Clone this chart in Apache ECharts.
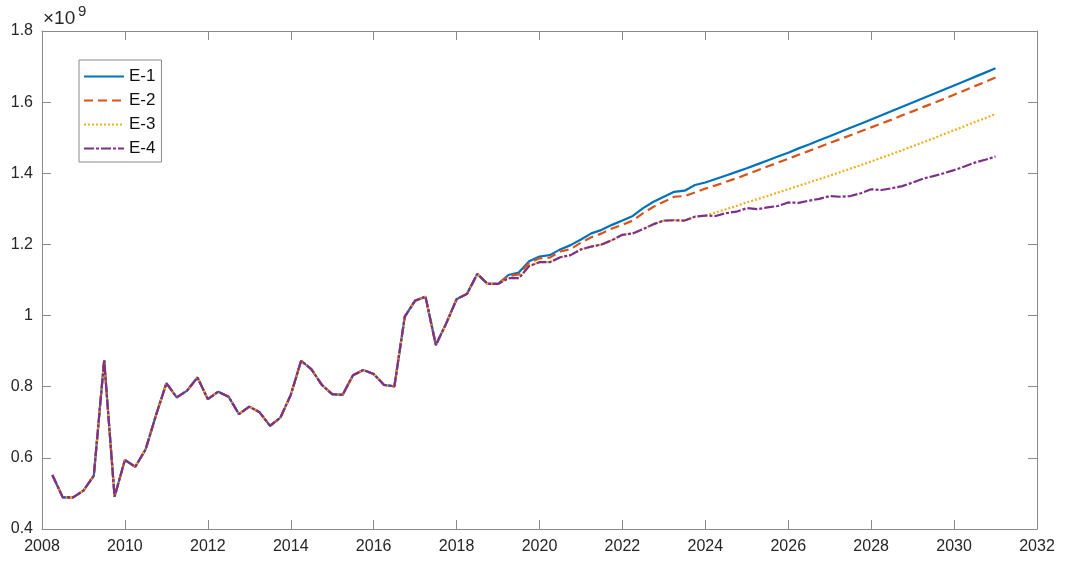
<!DOCTYPE html>
<html>
<head>
<meta charset="utf-8">
<title>E-1 to E-4 scenarios</title>
<script src="https://cdn.jsdelivr.net/npm/echarts@6/dist/echarts.min.js"></script>
<style>
  html, body { margin: 0; padding: 0; background: #fff; }
  #chart { width: 1065px; height: 563px; }
</style>
</head>
<body>
<div id="chart"></div>
<script>
// Quarterly observations, in units of 10^9, starting 2008 Q1 end (2008.25)
const firstQuarter = 2008.25;
const quarterStep = 0.25;

// Shared history, 2008.25 .. 2019.0
const history = [
  0.552, 0.489, 0.489, 0.508, 0.550, 0.875, 0.491, 0.594, 0.575, 0.624,
  0.720, 0.810, 0.770, 0.789, 0.826, 0.765, 0.786, 0.772, 0.723, 0.744,
  0.728, 0.690, 0.713, 0.777, 0.873, 0.849, 0.805, 0.779, 0.777, 0.832,
  0.847, 0.836, 0.805, 0.801, 0.997, 1.042, 1.053, 0.917, 0.978, 1.046,
  1.061, 1.117, 1.089, 1.089
];

// Scenario paths, 2019.25 .. 2031.0
const e1Path = [
  1.114, 1.121, 1.153, 1.166, 1.170, 1.186, 1.198, 1.214, 1.231, 1.241,
  1.255, 1.267, 1.280, 1.302, 1.320, 1.334, 1.348, 1.351, 1.367, 1.374,
  1.384, 1.394, 1.404, 1.414, 1.425, 1.436, 1.447, 1.458, 1.470, 1.481,
  1.493, 1.504, 1.516, 1.528, 1.539, 1.551, 1.563, 1.575, 1.587, 1.599,
  1.611, 1.623, 1.635, 1.647, 1.659, 1.671, 1.683, 1.695
];
const e2Path = [
  1.111, 1.116, 1.148, 1.161, 1.163, 1.180, 1.187, 1.205, 1.220, 1.231,
  1.245, 1.255, 1.267, 1.288, 1.306, 1.320, 1.334, 1.336, 1.346, 1.357,
  1.366, 1.376, 1.386, 1.397, 1.408, 1.419, 1.430, 1.441, 1.452, 1.463,
  1.474, 1.485, 1.496, 1.507, 1.518, 1.529, 1.540, 1.551, 1.563, 1.574,
  1.586, 1.597, 1.609, 1.621, 1.633, 1.645, 1.657, 1.669
];
const e4Path = [
  1.105, 1.105, 1.139, 1.150, 1.150, 1.164, 1.170, 1.186, 1.194, 1.200,
  1.212, 1.227, 1.231, 1.243, 1.257, 1.267, 1.268, 1.267, 1.278, 1.281,
  1.280, 1.288, 1.292, 1.302, 1.299, 1.304, 1.308, 1.318, 1.317, 1.323,
  1.328, 1.336, 1.334, 1.336, 1.344, 1.355, 1.353, 1.358, 1.364, 1.374,
  1.385, 1.392, 1.400, 1.409, 1.419, 1.430, 1.438, 1.447
];
// E-3 follows E-4 until 2024.0, then its own path 2024.25 .. 2031.0
const e3SharedCount = 20;
const e3Path = [
  1.290, 1.299, 1.308, 1.318, 1.327, 1.336, 1.346, 1.355, 1.365, 1.374,
  1.384, 1.393, 1.403, 1.413, 1.423, 1.433, 1.444, 1.454, 1.465, 1.476,
  1.487, 1.498, 1.510, 1.521, 1.532, 1.544, 1.555, 1.567
];

const seriesNames = ['E-1', 'E-2', 'E-3', 'E-4'];
const seriesColors = ['#0072BD', '#D95319', '#EDB120', '#7E2F8E'];
const seriesDash = ['solid', [9, 5], [2, 2], [10, 2, 3, 2]];

const xTicks = { min: 2008, max: 2032, step: 2 };
const yTicks = { min: 0.4, max: 1.8, step: 0.2 };

function toPoints(values) {
  return values.map((v, i) => [firstQuarter + quarterStep * i, v]);
}

const seriesValues = [
  history.concat(e1Path),
  history.concat(e2Path),
  history.concat(e4Path.slice(0, e3SharedCount), e3Path),
  history.concat(e4Path)
];

const axisGrey = '#8a8a8a';
const labelColor = '#262626';
const fontFamily = 'Liberation Sans, Arial, Helvetica, sans-serif';

const chart = echarts.init(document.getElementById('chart'), null, { renderer: 'canvas' });

const boxAxis = {
  axisLine: { show: true, lineStyle: { color: axisGrey, width: 1 } },
  axisTick: { show: true, inside: true, length: 9, lineStyle: { color: axisGrey } },
  splitLine: { show: false }
};

chart.setOption({
  animation: false,
  backgroundColor: '#ffffff',
  grid: { left: 42, right: 28, top: 31, bottom: 34 },
  xAxis: [
    Object.assign({
      type: 'value', position: 'bottom',
      min: xTicks.min, max: xTicks.max, interval: xTicks.step,
      axisLabel: {
        color: labelColor, fontSize: 16, fontFamily: fontFamily, margin: 10,
        formatter: v => String(v)
      }
    }, boxAxis),
    Object.assign({
      type: 'value', position: 'top',
      min: xTicks.min, max: xTicks.max, interval: xTicks.step,
      axisLabel: { show: false }
    }, boxAxis)
  ],
  yAxis: [
    Object.assign({
      type: 'value', position: 'left',
      min: yTicks.min, max: yTicks.max, interval: yTicks.step,
      axisLabel: {
        color: labelColor, fontSize: 16, fontFamily: fontFamily, margin: 9,
        formatter: v => String(parseFloat(v.toFixed(1)))
      }
    }, boxAxis),
    Object.assign({
      type: 'value', position: 'right',
      min: yTicks.min, max: yTicks.max, interval: yTicks.step,
      axisLabel: { show: false }
    }, boxAxis)
  ],
  legend: {
    left: 79, top: 60,
    orient: 'vertical',
    data: seriesNames,
    itemWidth: 40, itemHeight: 16, itemGap: 7,
    padding: [8, 6, 5, 4],
    borderColor: '#8a8a8a', borderWidth: 1,
    backgroundColor: '#ffffff',
    // line samples only, no marker in the middle
    itemStyle: { opacity: 0 },
    textStyle: { color: '#111', fontSize: 17, fontFamily: fontFamily }
  },
  graphic: [
    {
      type: 'text', left: 43, top: 9,
      style: { text: '×10', fill: labelColor, font: '19px ' + fontFamily }
    },
    {
      type: 'text', left: 78, top: 4,
      style: { text: '9', fill: labelColor, font: '15px ' + fontFamily }
    }
  ],
  series: seriesNames.map((name, k) => ({
    name: name,
    type: 'line',
    xAxisIndex: 0, yAxisIndex: 0,
    data: toPoints(seriesValues[k]),
    symbol: 'none',
    showSymbol: false,
    z: 2 + k,
    lineStyle: { color: seriesColors[k], width: 2.2, type: seriesDash[k] },
    itemStyle: { color: seriesColors[k] }
  }))
});
</script>
</body>
</html>
